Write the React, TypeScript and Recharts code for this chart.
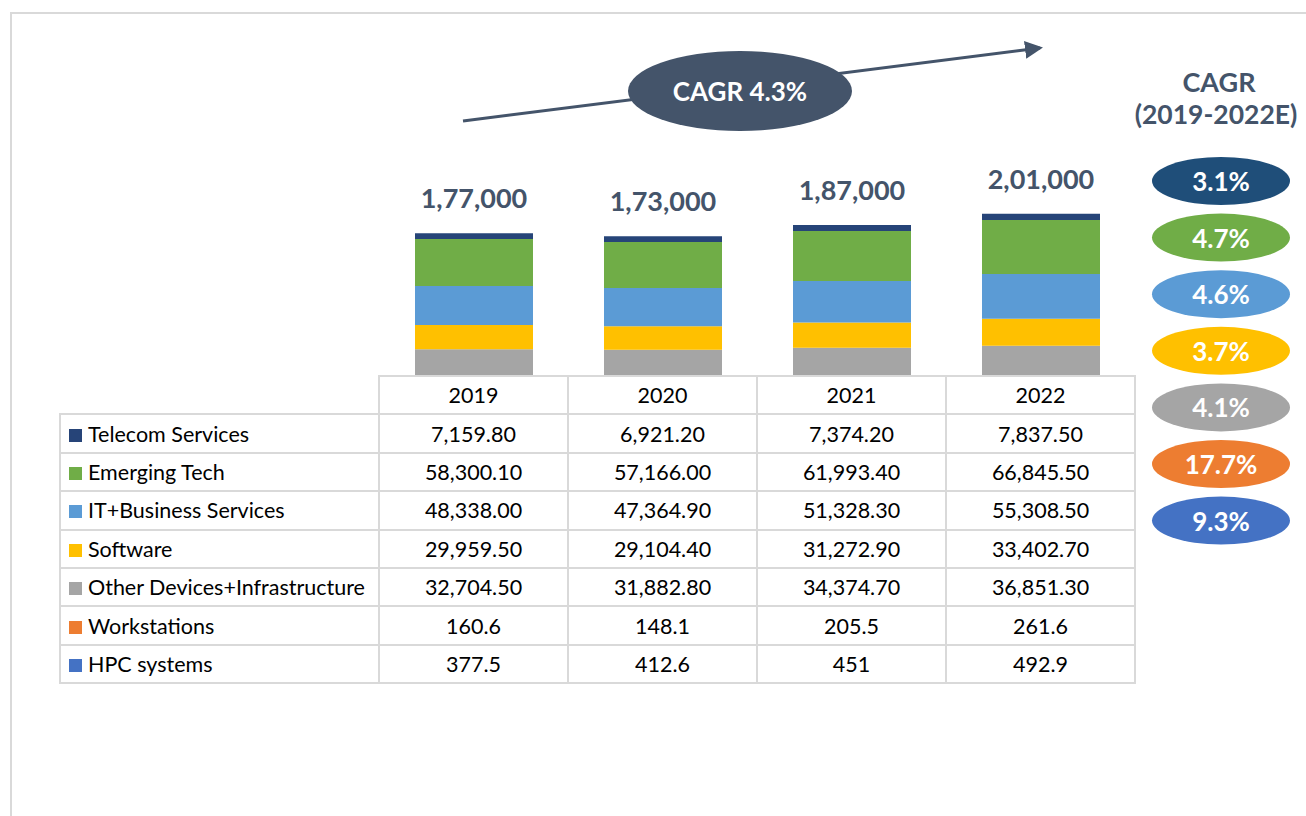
import { BarChart, Bar, XAxis, YAxis, LabelList } from 'recharts';

const years = ['2019', '2020', '2021', '2022'];
const telecom = [7159.8, 6921.2, 7374.2, 7837.5];
const emergingTech = [58300.1, 57166.0, 61993.4, 66845.5];
const itBusiness = [48338.0, 47364.9, 51328.3, 55308.5];
const software = [29959.5, 29104.4, 31272.9, 33402.7];
const otherDevices = [32704.5, 31882.8, 34374.7, 36851.3];
const workstations = [160.6, 148.1, 205.5, 261.6];
const hpc = [377.5, 412.6, 451, 492.9];
const seriesCagr = ['3.1%', '4.7%', '4.6%', '3.7%', '4.1%', '17.7%', '9.3%'];
const overallCagr = 'CAGR 4.3%';

// table / legend order (top to bottom); bars stack in reverse
const series = [
  { key: 'telecom', name: 'Telecom Services', values: telecom, color: '#264478', cagrColor: '#1f4e79', fixed: true },
  { key: 'emerging', name: 'Emerging Tech', values: emergingTech, color: '#70ad47', cagrColor: '#70ad47', fixed: true },
  { key: 'itbiz', name: 'IT+Business Services', values: itBusiness, color: '#5b9bd5', cagrColor: '#5b9bd5', fixed: true },
  { key: 'software', name: 'Software', values: software, color: '#ffc000', cagrColor: '#ffc000', fixed: true },
  { key: 'other', name: 'Other Devices+Infrastructure', values: otherDevices, color: '#a5a5a5', cagrColor: '#a5a5a5', fixed: true },
  { key: 'workstations', name: 'Workstations', values: workstations, color: '#ed7d31', cagrColor: '#ed7d31', fixed: false },
  { key: 'hpc', name: 'HPC systems', values: hpc, color: '#4472c4', cagrColor: '#4472c4', fixed: false },
];

const rows = years.map((year, i) => {
  const row: any = { year };
  let total = 0;
  series.forEach((s) => {
    row[s.key] = s.values[i];
    total += s.values[i];
  });
  row.total = Math.round(total);
  return row;
});

const SLATE = '#44546a';
const GRID = '#d9d9d9';
const FONT = 'Lato, "Noto Sans", sans-serif';

function fmtIndian(n: number) {
  const s = Math.round(n).toString();
  if (s.length <= 3) return s;
  const last3 = s.slice(-3);
  const rest = s.slice(0, -3).replace(/\B(?=(\d{2})+(?!\d))/g, ',');
  return rest + ',' + last3;
}

function fmtCell(v: number, fixed: boolean) {
  if (!fixed) return String(v);
  return v.toLocaleString('en-US', { minimumFractionDigits: 2, maximumFractionDigits: 2 });
}

function TotalLabel(props: any) {
  const { x, y, width, value } = props;
  return (
    <text x={x + width / 2} y={y - 25} textAnchor="middle" fill={SLATE} fontSize={27} fontWeight={700} fontFamily={FONT}>
      {fmtIndian(value)}
    </text>
  );
}

export default function App() {
  const cellStyle: any = {
    border: `2px solid ${GRID}`,
    height: 36.4,
    padding: 0,
    fontSize: 21.5,
    lineHeight: '36px',
    textAlign: 'center',
    color: '#000',
  };
  const stacked = [...series].reverse();

  return (
    <div style={{ position: 'absolute', left: 0, top: 0, width: 1306, height: 816, background: '#fff', overflow: 'hidden', fontFamily: FONT }}>
      <div style={{ position: 'absolute', left: 10, top: 12, width: 1400, height: 900, borderLeft: `2px solid ${GRID}`, borderTop: `2px solid ${GRID}` }} />

      <div style={{ position: 'absolute', left: 379, top: 150 }}>
        <BarChart width={756} height={226} data={rows} margin={{ top: 0, right: 0, bottom: 0, left: 0 }} barSize={118} style={{ overflow: 'visible' }}>
          <XAxis dataKey="year" hide />
          <YAxis hide domain={[0, 280000]} />
          {stacked.map((s) => (
            <Bar key={s.key} dataKey={s.key} name={s.name} stackId="a" fill={s.color} isAnimationActive={false}>
              {s.key === 'telecom' && <LabelList dataKey="total" content={<TotalLabel />} />}
            </Bar>
          ))}
        </BarChart>
      </div>

      <table style={{ position: 'absolute', left: 59, top: 375, borderCollapse: 'collapse', tableLayout: 'fixed', fontFamily: FONT }}>
        <colgroup>
          <col style={{ width: 319 }} />
          {years.map((y) => (
            <col key={y} style={{ width: 189 }} />
          ))}
        </colgroup>
        <tbody>
          <tr>
            <td style={{ ...cellStyle, border: 'none' }} />
            {years.map((y) => (
              <td key={y} style={cellStyle}>{y}</td>
            ))}
          </tr>
          {series.map((s) => (
            <tr key={s.key}>
              <td style={{ ...cellStyle, textAlign: 'left', whiteSpace: 'nowrap' }}>
                <span style={{ display: 'inline-block', width: 13, height: 13, background: s.color, marginLeft: 8, marginRight: 6, verticalAlign: 0 }} />
                {s.name}
              </td>
              {s.values.map((v, i) => (
                <td key={i} style={cellStyle}>{fmtCell(v, s.fixed)}</td>
              ))}
            </tr>
          ))}
        </tbody>
      </table>

      <svg width={1306} height={816} style={{ position: 'absolute', left: 0, top: 0, pointerEvents: 'none' }}>
        <defs>
          <marker id="arrowHead" markerWidth="6" markerHeight="6" refX="5" refY="3" orient="auto" markerUnits="strokeWidth">
            <path d="M0,0 L6,3 L0,6 z" fill={SLATE} />
          </marker>
        </defs>
        <line x1={463} y1={121} x2={1040} y2={48} stroke={SLATE} strokeWidth={3} markerEnd="url(#arrowHead)" />
        <ellipse cx={740} cy={91} rx={112} ry={40} fill={SLATE} />
        <text x={740} y={101} textAnchor="middle" fill="#fff" fontSize={26} fontWeight={700} fontFamily={FONT}>
          {overallCagr}
        </text>

        <text x={1219} y={92} textAnchor="middle" fill={SLATE} fontSize={27} fontWeight={700} fontFamily={FONT}>CAGR</text>
        <text x={1216} y={124} textAnchor="middle" fill={SLATE} fontSize={26.5} fontWeight={700} fontFamily={FONT}>(2019-2022E)</text>
        {series.map((s, i) => (
          <g key={s.key}>
            <ellipse cx={1221} cy={181 + i * 56.6} rx={69} ry={24} fill={s.cagrColor} />
            <text x={1221} y={181 + i * 56.6 + 10} textAnchor="middle" fill="#fff" fontSize={26} fontWeight={700} fontFamily={FONT}>
              {seriesCagr[i]}
            </text>
          </g>
        ))}
      </svg>
    </div>
  );
}
